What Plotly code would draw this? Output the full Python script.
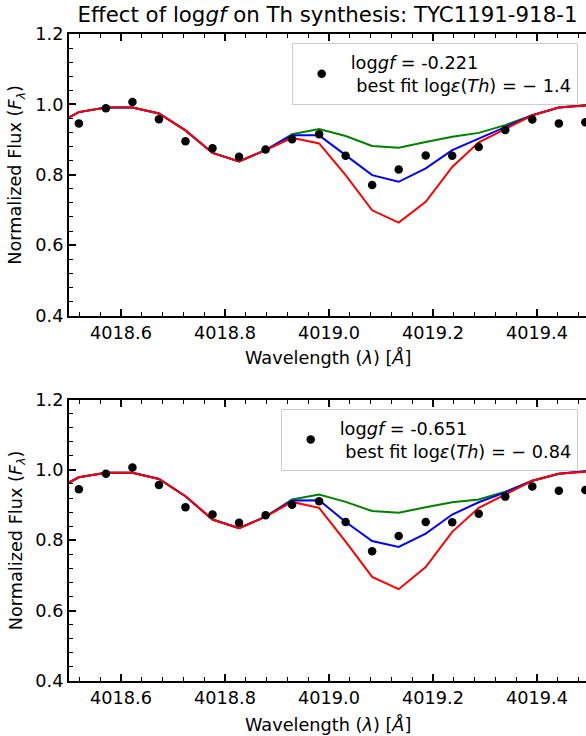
import plotly.graph_objects as go

# ---------------- data ----------------
obs_wl = [4018.519, 4018.571, 4018.622, 4018.673, 4018.724, 4018.776, 4018.827,
          4018.878, 4018.929, 4018.981, 4019.032, 4019.083, 4019.134, 4019.186,
          4019.237, 4019.288, 4019.339, 4019.391, 4019.442, 4019.493]
model_wl = [4018.468] + obs_wl + [4019.544]

top_obs = [0.946, 0.989, 1.007, 0.958, 0.895, 0.875, 0.851, 0.872, 0.901, 0.915,
           0.854, 0.771, 0.815, 0.855, 0.854, 0.879, 0.927, 0.957, 0.946, 0.949]
top_common = [0.938, 0.978, 0.991, 0.991, 0.974, 0.926, 0.862, 0.838, 0.870]
top_green = top_common + [0.915, 0.930, 0.910, 0.882, 0.877, 0.893, 0.908, 0.919,
                          0.941, 0.969, 0.991, 0.998, 1.002]
top_blue = top_common + [0.912, 0.912, 0.855, 0.799, 0.780, 0.818, 0.870, 0.903,
                         0.936, 0.969, 0.991, 0.998, 1.002]
top_red = top_common + [0.905, 0.889, 0.799, 0.699, 0.664, 0.723, 0.822, 0.892,
                        0.931, 0.969, 0.991, 0.998, 1.002]

bot_obs = [0.945, 0.989, 1.007, 0.957, 0.894, 0.873, 0.850, 0.871, 0.901, 0.911,
           0.852, 0.769, 0.812, 0.852, 0.851, 0.875, 0.924, 0.953, 0.941, 0.943]
bot_common = [0.939, 0.979, 0.992, 0.992, 0.974, 0.925, 0.859, 0.834, 0.867]
bot_green = bot_common + [0.916, 0.930, 0.909, 0.883, 0.878, 0.894, 0.908, 0.916,
                          0.938, 0.969, 0.989, 0.996, 1.000]
bot_blue = bot_common + [0.913, 0.914, 0.852, 0.798, 0.781, 0.819, 0.873, 0.908,
                         0.936, 0.969, 0.989, 0.996, 1.000]
bot_red = bot_common + [0.909, 0.892, 0.796, 0.696, 0.661, 0.724, 0.824, 0.892,
                        0.931, 0.969, 0.989, 0.996, 1.000]

top_label = "log<i>gf</i> = -0.221<br>\u00a0best fit log<i>ε</i>(<i>Th</i>) = − 1.4"
bot_label = "log<i>gf</i> = -0.651<br>\u00a0best fit log<i>ε</i>(<i>Th</i>) = − 0.84"
title_text = "Effect of log<i>gf</i> on Th synthesis: TYC1191-918-1"
xlabel = "Wavelength (<i>λ</i>) [<i>Å</i>]"
ylabel = "Normalized Flux (<i>F</i><sub><i>λ</i></sub>)"

# ---------------- figure ----------------
FONT = "DejaVu Sans"
FS = 17.7
W, H = 586, 736
ML, MR, MT, MB = 69, 0, 34, 55
PW = W - ML - MR
PH = H - MT - MB

def py(p):  # pixel y -> paper y
    return (H - MB - p) / PH

def px(p):
    return (p - ML) / PW

xrange_ = [4018.5, 4018.5 + PW / 520.0]

fig = go.Figure()

def add_panel(xa, ya, obs, green, blue, red, label, legend):
    for vals, col in ((green, "green"), (blue, "blue"), (red, "red")):
        fig.add_trace(go.Scatter(x=model_wl, y=vals, mode="lines",
                                 line=dict(color=col, width=2),
                                 showlegend=False, xaxis=xa, yaxis=ya,
                                 hoverinfo="skip"))
    fig.add_trace(go.Scatter(x=obs_wl, y=obs, mode="markers",
                             marker=dict(color="black", size=8.5),
                             name=label, legend=legend, showlegend=True,
                             cliponaxis=False, xaxis=xa, yaxis=ya))

add_panel("x", "y", top_obs, top_green, top_blue, top_red, top_label, "legend")
add_panel("x2", "y2", bot_obs, bot_green, bot_blue, bot_red, bot_label, "legend2")

minor_common = dict(ticks="inside", ticklen=4, tickwidth=1.3, tickcolor="black")

def xaxis(domain_anchor):
    return dict(range=xrange_, domain=[0, 1], anchor=domain_anchor,
                showline=True, linecolor="black", linewidth=2, mirror="ticks",
                ticks="inside", ticklen=7, tickwidth=1.5, tickcolor="black",
                tick0=4018.6, dtick=0.2, tickformat=".1f",
                minor=dict(tick0=4018.6, dtick=0.04, **minor_common),
                showgrid=False, zeroline=False,
                tickfont=dict(family=FONT, size=FS, color="black"))

def yaxis(domain, anchor, line=True, labels=True, overlay=None, side="left"):
    d = dict(range=[0.4, 1.2], domain=domain, anchor=anchor,
             showline=line, linecolor="black", linewidth=2, mirror=False,
             ticks="inside", ticklen=7, tickwidth=1.5, tickcolor="black",
             tick0=0.4, dtick=0.2, tickformat=".1f",
             minor=dict(tick0=0.4, dtick=0.04, **minor_common),
             showgrid=False, zeroline=False, showticklabels=labels, side=side,
             tickfont=dict(family=FONT, size=FS, color="black"))
    if overlay:
        d["overlaying"] = overlay
    return d

top_dom = [py(315.5), 1.0]
bot_dom = [0.0, py(399.5)]

legend_common = dict(bgcolor="rgba(255,255,255,0.8)", bordercolor="#cccccc",
                     borderwidth=1, font=dict(family=FONT, size=FS, color="black"),
                     xref="paper", yref="paper", xanchor="right", yanchor="top",
                     itemwidth=48, valign="middle")

fig.update_layout(
    width=W, height=H, margin=dict(l=ML, r=MR, t=MT, b=MB),
    paper_bgcolor="white", plot_bgcolor="white",
    font=dict(family=FONT, size=FS, color="black"),
    title=dict(text=title_text, x=px(327.5), xref="paper", xanchor="center",
               y=1 - 15 / H, yref="container", yanchor="middle",
               font=dict(family=FONT, size=21.3, color="black")),
    xaxis=xaxis("y"), yaxis=yaxis(top_dom, "x"),
    xaxis2=xaxis("y2"), yaxis2=yaxis(bot_dom, "x2"),
    yaxis3=yaxis(top_dom, "x", line=False, labels=False, overlay="y", side="right"),
    yaxis4=yaxis(bot_dom, "x2", line=False, labels=False, overlay="y2", side="right"),
    legend=dict(x=px(577.7), y=py(43.3), **legend_common),
    legend2=dict(x=px(577.7), y=py(409), **legend_common),
    showlegend=True,
)

ann_font = dict(family=FONT, size=FS, color="black")
for ycen in (357, 725):
    fig.add_annotation(text=xlabel, xref="paper", yref="paper", x=px(328),
                       y=py(ycen), xanchor="center", yanchor="middle",
                       showarrow=False, font=ann_font)
for ycen in (174.75, 540.25):
    fig.add_annotation(text=ylabel, xref="paper", yref="paper", x=px(17),
                       y=py(ycen), xanchor="center", yanchor="middle",
                       textangle=-90, showarrow=False, font=ann_font)

fig.write_html("out.html")
